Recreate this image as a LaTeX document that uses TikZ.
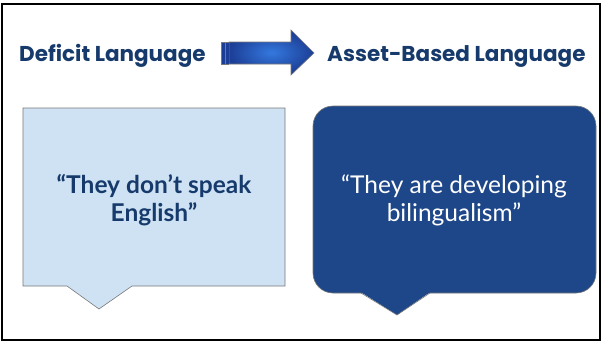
\documentclass[tikz,border=0pt]{standalone}
\usepackage{fontspec}
\setmainfont{Lato}
\newfontfamily\headfont{Poppins}
\usetikzlibrary{shadings}
\definecolor{navy}{RGB}{22,58,107}
\definecolor{paleblue}{RGB}{207,226,243}
\definecolor{deepblue}{RGB}{30,71,137}
\definecolor{edgegray}{RGB}{120,120,120}
\definecolor{arrowlight}{RGB}{52,120,222}
\definecolor{arrowdark}{RGB}{28,62,150}
\tikzset{
  heading/.style={font=\headfont\bfseries\fontsize{21.5}{24}\selectfont, text=navy, inner sep=0pt},
  quote/.style={align=center, inner sep=0pt},
  quotefont/.style={font=#1\fontsize{24.5}{28}\selectfont},
}
\begin{document}
\begin{tikzpicture}[x=1pt,y=-1pt]
  \useasboundingbox (0,0) rectangle (603,343);
  \fill[white] (0,0) rectangle (603,343);
  % outer frame
  \draw[black, line width=2pt] (2,4) rectangle (600,340);

  % headings
  \node[heading, anchor=base west] (deficit) at (19,61) {Deficit Language};
  \node[heading, anchor=base west] (asset) at (327,61) {Asset-Based Language};

  % block arrow between the headings
  \shade[inner color=arrowlight, outer color=arrowdark, draw=edgegray, line width=0.6pt]
    (229,42) -- (291,42) -- (291,30) -- (314,53) -- (291,75) -- (291,64) -- (229,64) -- cycle;
  \fill[arrowdark] (221,42) rectangle (229,64);
  \draw[edgegray, line width=0.8pt] (221.5,42) -- (221.5,64);
  \draw[edgegray, line width=0.8pt] (225.5,42) -- (225.5,64);
  \draw[edgegray, line width=0.6pt] (221,42) -- (229,42) (221,64) -- (229,64);

  % deficit callout
  \draw[fill=paleblue, draw=edgegray, line width=0.6pt]
    (23,108) -- (285,108) -- (285,286) -- (132,286) -- (99,309) -- (67,286) -- (23,286) -- cycle;
  \node[quote, text=navy, quotefont=\bfseries] (deficitquote) at (154,200)
    {“They don’t speak\\English”};

  % asset-based callout: rounded body, then its pointer laid over the lower edge
  \draw[fill=deepblue, draw=edgegray, line width=0.6pt, rounded corners=20pt]
    (313,106) rectangle (596,293);
  \fill[deepblue] (361,292.2) -- (397,315) -- (430,292.2) -- cycle;
  \draw[edgegray, line width=0.6pt] (361,293) -- (397,315) -- (430,293);
  \node[quote, text=white, quotefont=] (assetquote) at (454,200)
    {“They are developing\\bilingualism”};
\end{tikzpicture}
\end{document}
